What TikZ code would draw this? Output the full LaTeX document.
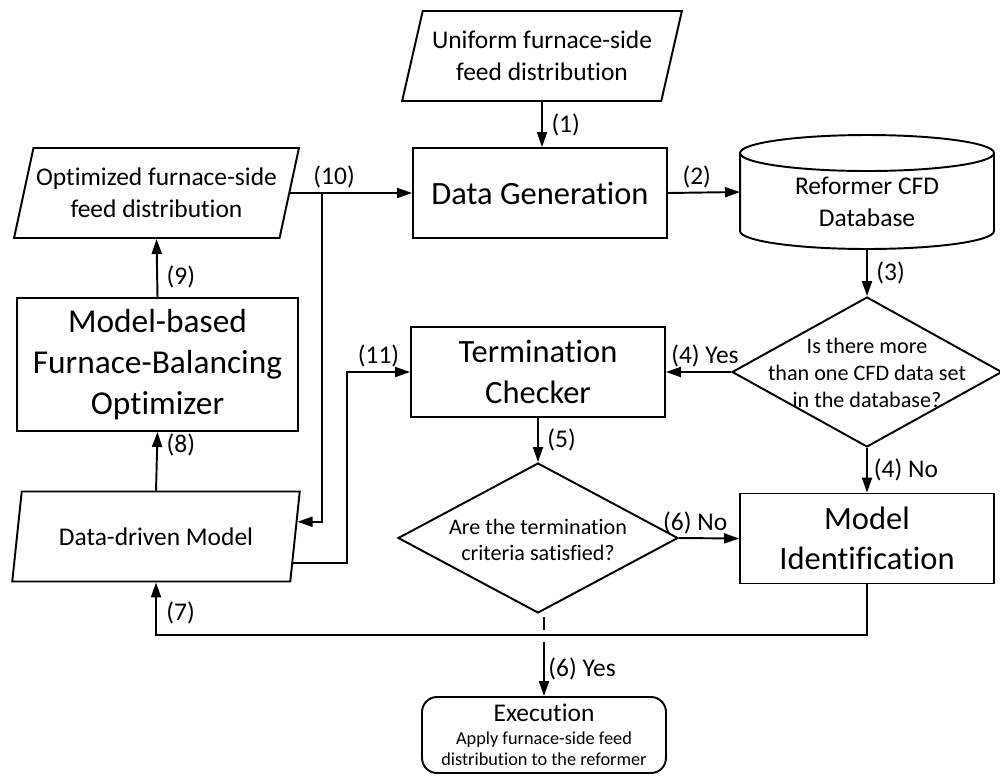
\documentclass[tikz,border=0pt]{standalone}
\usepackage{fontspec}
\setmainfont[Ligatures=NoCommon]{Carlito}
\usetikzlibrary{shapes.geometric,arrows.meta,calc,positioning}
\newcommand{\bigsz}{\fontsize{18.5}{23}\selectfont}
\newcommand{\regsz}{\fontsize{14.5}{18}\selectfont}
\newcommand{\diasz}{\fontsize{12.6}{15.2}\selectfont}
\newcommand{\smlsz}{\fontsize{10.4}{12}\selectfont}
\tikzset{
    proc/.style={draw, rectangle, minimum width=5.08cm, minimum height=1.8cm, align=center, font=\bigsz, inner sep=0pt},
    io/.style={draw, trapezium, trapezium left angle=69, trapezium right angle=111, trapezium stretches=true, minimum height=1.8cm, align=center, inner sep=0pt, font=\regsz},
    dia/.style={draw, diamond, minimum height=3cm, inner sep=0pt},
    dtxt/.style={align=center, font=\diasz, inner sep=0pt},
    exe/.style={draw, rounded corners=0.3cm, minimum width=4.88cm, minimum height=1.52cm, align=center, inner sep=0pt, font=\smlsz},
    lbl/.style={font=\regsz, inner sep=2pt},
    rlbl/.style={lbl, right, xshift=0.1cm},
    arr/.style={-{Triangle[length=3mm,width=2mm]}},
}
\begin{document}
\begin{tikzpicture}[x=0.02cm,y=-0.02cm,line width=1.1pt]
\useasboundingbox (0,0) rectangle (1000,775);
%INPUT / OUTPUT
\node[io, minimum width=5.6cm] (uni) at (542,56) {Uniform furnace-side\\feed distribution};
\node[io, minimum width=5.7cm] (opt) at (156.5,193) {Optimized furnace-side\\feed distribution};
\node[io, minimum width=5.76cm] (ddm) at (156,536.5) {Data-driven Model};
%PROCESSES
\node[proc] (gen) at (540,193) {Data Generation};
\node[proc] (chk) at (538,372) {Termination\\Checker};
\node[proc] (mid) at (867,538.5) {Model\\Identification};
\node[proc, minimum width=5.62cm, minimum height=2.66cm, font=\fontsize{19}{23.2}\selectfont] (mbo) at (157.5,364.5) {Model-based\\Furnace-Balancing\\Optimizer};
%DATABASE
\node[minimum width=5.08cm, minimum height=2.28cm, outer sep=0pt] (db) at (867,192) {};
\draw ([yshift=-0.36cm]db.north west) -- ([yshift=0.36cm]db.south west)
      arc[start angle=180, end angle=360, x radius=2.54cm, y radius=0.36cm]
      -- ([yshift=-0.36cm]db.north east)
      arc[start angle=0, end angle=180, x radius=2.54cm, y radius=0.36cm]
      arc[start angle=180, end angle=360, x radius=2.54cm, y radius=0.36cm];
\node[align=center, font=\regsz, inner sep=0pt] (dbt) at (867,202) {Reformer CFD\\Database};
%DECISIONS
\node[dia, minimum width=5.4cm] (dec1) at (867,372) {};
\node[dtxt] (dec1t) at (867,373) {Is there more\\than one CFD data set\\in the database?};
\node[dia, minimum width=5.6cm] (dec2) at (538,538) {};
\node[dtxt] (dec2t) at (538,540) {Are the termination\\criteria satisfied?};
%EXECUTION
\node[exe] (exec) at (544,735) {{\fontsize{14.5}{16}\selectfont Execution}\\[1pt]Apply furnace-side feed\\distribution to the reformer};
%ARROWS
\coordinate (x7) at (0,635);
\coordinate (br) at (322,193);
\coordinate (ddmin) at ($(ddm.top right corner)!0.34!(ddm.bottom right corner)$);
\coordinate (ddmout) at ($(ddm.top right corner)!0.79!(ddm.bottom right corner)$);
\draw[arr] (uni.south) -- node[rlbl] (l1) {(1)} (uni.south |- gen.north);
\draw[arr] (gen.east) -- node[lbl, above, pos=0.4] (l2) {(2)} (db.west);
\draw[arr] (db.south) -- node[rlbl] (l3) {(3)} (dec1.north);
\draw[arr] (dec1.west) -- node[lbl, above, pos=0.4] (l4y) {(4) Yes} (chk.east);
\draw[arr] (dec1.south) -- node[rlbl, xshift=-0.05cm] (l4n) {(4) No} (mid.north);
\draw[arr] (chk.south) -- node[rlbl] (l5) {(5)} (dec2.north);
\draw[arr] (dec2.east) -- node[lbl, above, pos=0.27] (l6n) {(6) No} (mid.west);
\draw ($(exec.north |- dec2.south)+(0,3)$) -- ($(exec.north |- x7)+(0,-5)$);
\draw[arr] ($(exec.north |- x7)+(0,7)$) -- node[lbl, right] (l6y) {(6) Yes} (exec.north);
\draw[arr] (mid.south) -- (mid.south |- x7) -| (ddm.south);
\node[lbl, right] (l7) at (162,613) {(7)};
\draw[arr] (ddm.north) -- node[rlbl, pos=0.78] (l8) {(8)} (mbo.south);
\draw[arr] (mbo.north) -- node[rlbl, pos=0.35] (l9) {(9)} (opt.south);
\draw[arr] (opt.right side) -- node[lbl, above, pos=0.36] (l10) {(10)} (gen.west);
\draw[arr] (br) |- (ddmin);
\draw[arr] (ddmout) -| ($(chk.west)+(-63,0)$) -- node[lbl, above] (l11) {(11)} (chk.west);
\end{tikzpicture}
\end{document}
